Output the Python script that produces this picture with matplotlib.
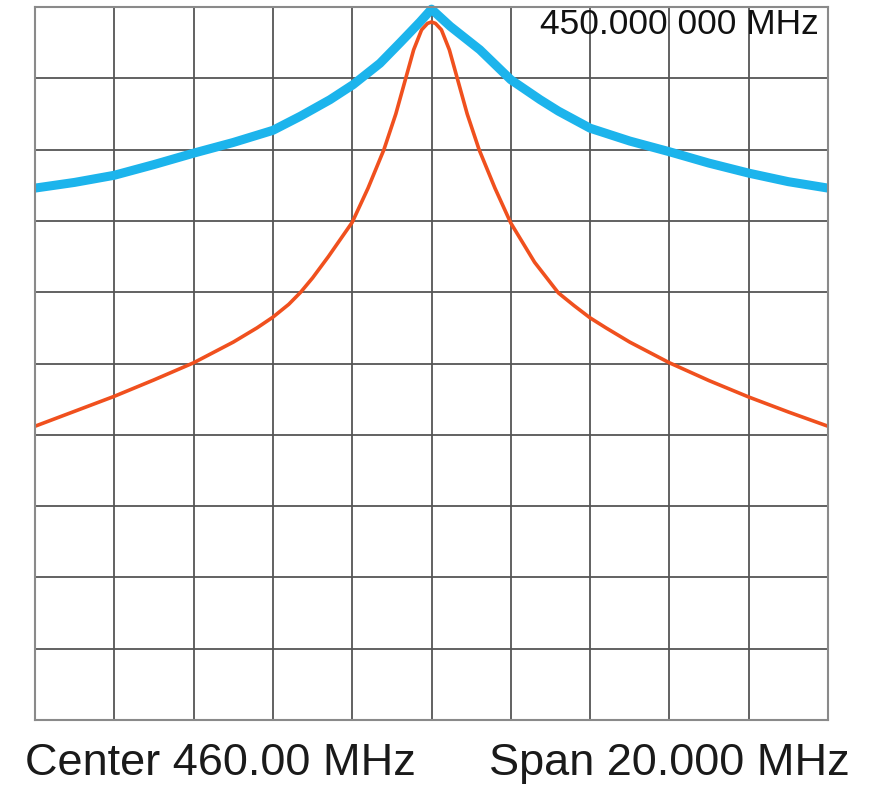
import matplotlib
matplotlib.use("Agg")
import matplotlib.pyplot as plt

# frequency axis: 450..470 MHz, 2 MHz/div ; level axis: 10 dB/div, top = 0 dB
blue_freq = [450.0, 451.0, 452.0, 453.0, 454.0, 455.0, 456.0, 456.7, 457.44, 458.02, 458.7,
             459.21, 459.71, 460.0, 460.47, 461.22, 462.0, 462.74, 463.2, 464.0, 465.0,
             466.0, 467.0, 468.0, 469.0, 470.0]
blue_level = [-25.4, -24.6, -23.6, -22.1, -20.5, -19.0, -17.3, -15.3, -13.0, -10.9, -7.9,
              -5.0, -2.1, -0.3, -2.7, -6.0, -10.2, -13.0, -14.6, -17.0, -18.8,
              -20.3, -21.9, -23.3, -24.5, -25.4]

red_freq = [450.0, 451.0, 452.0, 453.0, 454.0, 455.0, 455.6, 456.0, 456.4, 456.7, 457.0,
            457.4, 458.0, 458.4, 458.8, 459.1, 459.35, 459.55, 459.75, 459.9, 460.0, 460.1,
            460.25, 460.45, 460.65, 460.9, 461.2, 461.6, 462.0, 462.6, 463.2, 463.6, 464.0,
            464.4, 465.0, 466.0, 467.0, 468.0, 469.0, 470.0]
red_level = [-58.8, -56.7, -54.6, -52.3, -49.9, -47.0, -45.0, -43.5, -41.7, -40.0, -38.0,
             -35.0, -30.2, -25.4, -20.0, -15.0, -10.0, -6.0, -3.2, -2.3, -2.1, -2.3,
             -3.2, -6.0, -10.0, -15.0, -20.0, -25.4, -30.3, -35.8, -40.1, -41.9, -43.6,
             -45.0, -47.0, -49.9, -52.4, -54.7, -56.8, -58.8]

x_ticks = [450 + 2 * i for i in range(11)]
y_ticks = [-100 + 10 * i for i in range(11)]

fig = plt.figure(figsize=(8.69, 7.86), dpi=100)
ax = fig.add_axes([35 / 869, 66 / 786, 793 / 869, 713 / 786])

ax.set_xlim(450, 470)
ax.set_ylim(-100, 0)
ax.set_xticks(x_ticks)
ax.set_yticks(y_ticks)
ax.tick_params(length=0, labelbottom=False, labelleft=False)
ax.grid(True, color='#555555', linewidth=1.3)
ax.set_axisbelow(True)
for s in ax.spines.values():
    s.set_color('#8a8a8a')
    s.set_linewidth(1.5)

ax.plot(blue_freq, blue_level, color='#1cb4ec', linewidth=6.5, solid_capstyle='butt',
        solid_joinstyle='round', clip_on=False)
ax.plot(red_freq, red_level, color='#f0501e', linewidth=2.6, solid_joinstyle='round')

ax.text(0.988, 0.998, "450.000 000 MHz", transform=ax.transAxes, ha='right', va='top',
        fontsize=25.5, family='Liberation Sans', color='#111111')

fig.text(25 / 869, 11 / 786, "Center 460.00 MHz", ha='left', va='baseline',
         fontsize=32.5, family='Liberation Sans', color='#1a1a1a')
fig.text(850 / 869, 11 / 786, "Span 20.000 MHz", ha='right', va='baseline',
         fontsize=32.5, family='Liberation Sans', color='#1a1a1a')

fig.savefig("out.png", dpi=100, facecolor='white')
